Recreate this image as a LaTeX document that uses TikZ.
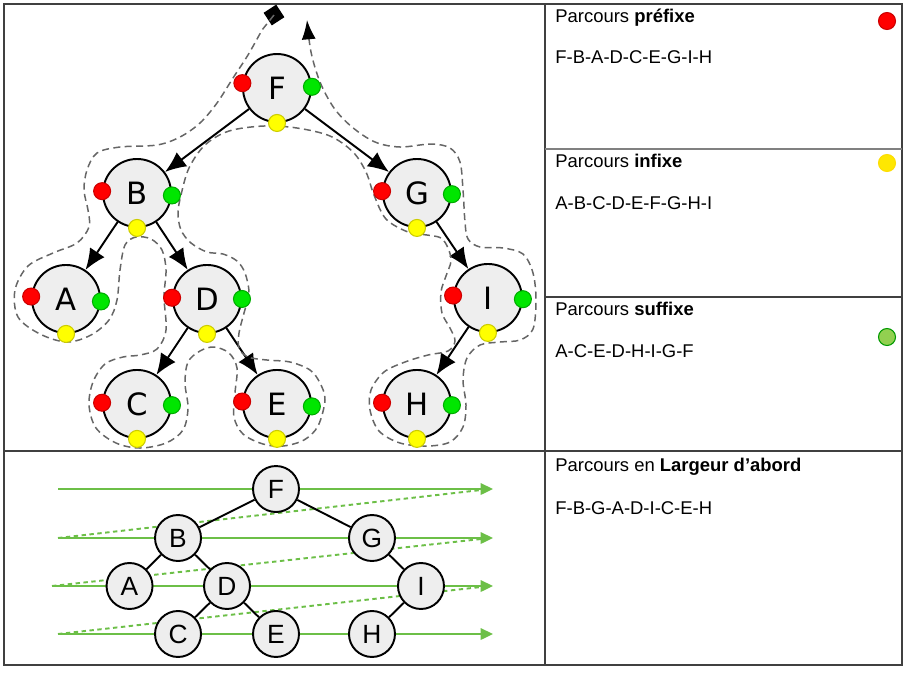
\documentclass[tikz,border=0pt]{standalone}
\usepackage{fontspec}
\setmainfont{Liberation Sans}
\newfontfamily\treefont{DejaVu Sans}
\usepackage{tikz}
\usetikzlibrary{arrows.meta,positioning}
\definecolor{nodegray}{HTML}{EEEEEE}
\definecolor{bfsgreen}{HTML}{6CBF47}
\definecolor{dotred}{HTML}{FF0000}
\definecolor{dotgreen}{HTML}{00E600}
\definecolor{dotyellow}{HTML}{FFFF00}
\definecolor{sufgreen}{HTML}{92D050}
\tikzstyle{tnode} =[circle, draw, fill=nodegray, line width=1.1pt,
                    minimum size=1.36cm, inner sep=0pt,
                    font=\treefont\fontsize{17.5}{18}\selectfont]
\tikzstyle{lnode} =[circle, draw, fill=nodegray, line width=1.1pt,
                    minimum size=0.92cm, inner sep=0pt,
                    font=\fontsize{15}{16}\selectfont]
\tikzstyle{edge}  =[line width=1.1pt, -{Latex[length=12pt,width=10pt]}]
\tikzstyle{ledge} =[line width=1.1pt]
\tikzstyle{tour}  =[draw=black!60, line width=0.85pt,
                    dash pattern=on 4pt off 2.5pt]
\tikzstyle{level} =[draw=bfsgreen, line width=1.1pt,
                    -{Triangle[length=7pt,width=6.5pt]}]
\tikzstyle{jump}  =[draw=bfsgreen, line width=1.1pt,
                    dash pattern=on 2.5pt off 2pt]
\tikzstyle{dot}   =[circle, minimum size=0.34cm, inner sep=0pt,
                    line width=0.6pt]
\tikzstyle{reddot}=[dot, fill=dotred, draw=dotred!80!black]
\tikzstyle{grndot}=[dot, fill=dotgreen, draw=dotgreen!75!black]
\tikzstyle{ylwdot}=[dot, fill=dotyellow, draw=dotyellow!80!black]
\tikzstyle{sufdot}=[dot, fill=sufgreen, draw=green!60!black]
\tikzstyle{frame} =[draw=black!75, line width=0.8pt]
\tikzstyle{celltext}=[anchor=base west, inner sep=0pt,
                    font=\fontsize{10.5}{12}\selectfont]

\begin{document}
\begin{tikzpicture}[x=0.02cm, y=-0.02cm, on grid]
  \useasboundingbox (0,0) rectangle (908,674);

  \draw[frame] (4,4) rectangle (902,665);
  \draw[frame] (545,4) -- (545,665);
  \draw[frame] (4,451) -- (902,451);
  \draw[frame, draw=black!50] (545,149) -- (902,149);
  \draw[frame] (545,297) -- (902,297);

  \node[tnode] (F) at (277,88) {F};
  \node[tnode] (B) [below left=2.1cm and 2.8cm of F] {B};
  \node[tnode] (G) [below right=2.1cm and 2.8cm of F] {G};
  \node[tnode] (A) [below left=2.12cm and 1.42cm of B] {A};
  \node[tnode] (D) [below right=2.12cm and 1.4cm of B] {D};
  \node[tnode] (C) [below left=2.1cm and 1.4cm of D] {C};
  \node[tnode] (E) [below right=2.1cm and 1.4cm of D] {E};
  \node[tnode] (I) [below right=2.1cm and 1.42cm of G] {I};
  \node[tnode] (H) [below left=2.12cm and 1.42cm of I] {H};
  \draw[edge] (F) -- (B);
  \draw[edge] (F) -- (G);
  \draw[edge] (B) -- (A);
  \draw[edge] (B) -- (D);
  \draw[edge] (D) -- (C);
  \draw[edge] (D) -- (E);
  \draw[edge] (G) -- (I);
  \draw[edge] (I) -- (H);

  \node[fill, rectangle, minimum size=0.3cm, inner sep=0pt, rotate=33]
    (start) at (274,15) {};
  \draw[tour, -{Latex[length=11pt,width=8pt,fill=black,color=black]}] (start.center) -- plot[smooth, tension=0.55] coordinates {
    (262,30) (248,55) (233,78) (217,103) (200,123) (180,137) (157,145)
    (120,147) (97,153) (87,170) (84,190) (88,210) (89,227) (77,243)
    (53,253) (28,266) (15,290) (18,317) (40,334) (67,342) (91,335)
    (109,320) (117,300) (120,270) (125,245) (136,237) (151,239)
    (162,250) (166,270) (164,297) (166,330) (157,349) (140,355)
    (123,357) (105,364) (93,382) (89,405) (96,428) (116,443) (140,448)
    (166,443) (183,430) (188,408) (185,383) (188,362) (200,351)
    (214,347) (229,353) (237,368) (235,393) (234,417) (243,434)
    (263,444) (283,446) (304,440) (318,426) (325,400) (320,383)
    (310,370) (290,362) (267,360) (248,357) (239,348) (239,333)
    (244,313) (249,293) (245,273) (237,261) (223,254) (207,252)
    (191,243) (181,230) (178,213) (181,195) (189,168) (205,145)
    (229,131) (264,126) (297,128) (330,136) (353,152) (366,172)
    (374,195) (386,219) (408,232) (427,235) (441,238) (448,248)
    (451,261) (446,276) (441,292) (442,313) (450,328) (455,341)
    (448,351) (428,355) (405,362) (384,372) (371,390) (370,410)
    (379,431) (400,443) (427,446) (450,442) (463,427) (466,405)
    (463,380) (467,358) (480,345) (500,342) (520,340) (533,329)
    (536,300) (533,273) (523,254) (503,248) (480,247) (468,239)
    (465,222) (463,190) (460,162) (450,148) (431,144) (400,147)
    (375,142) (352,127) (334,108) (320,82) (311,52) (307,20)};

  \node[reddot] (Fr) at (F.172) {}; \node[grndot] (Fg) at (F.2) {}; \node[ylwdot] (Fy) at (F.south) {};
  \node[reddot] (Br) at (B.177) {}; \node[grndot] (Bg) at (B.-4) {}; \node[ylwdot] (By) at (B.south) {};
  \node[reddot] (Gr) at (G.177) {}; \node[grndot] (Gg) at (G.-2) {}; \node[ylwdot] (Gy) at (G.south) {};
  \node[reddot] (Ar) at (A.176) {}; \node[grndot] (Ag) at (A.-4) {}; \node[ylwdot] (Ay) at (A.south) {};
  \node[reddot] (Dr) at (D.178) {}; \node[grndot] (Dg) at (D.0) {}; \node[ylwdot] (Dy) at (D.south) {};
  \node[reddot] (Ir) at (I.176) {}; \node[grndot] (Ig) at (I.-2) {}; \node[ylwdot] (Iy) at (I.south) {};
  \node[reddot] (Cr) at (C.178) {}; \node[grndot] (Cg) at (C.-2) {}; \node[ylwdot] (Cy) at (C.south) {};
  \node[reddot] (Er) at (E.176) {}; \node[grndot] (Eg) at (E.-4) {}; \node[ylwdot] (Ey) at (E.south) {};
  \node[reddot] (Hr) at (H.178) {}; \node[grndot] (Hg) at (H.-2) {}; \node[ylwdot] (Hy) at (H.south) {};

  \coordinate (s1) at (58,489);  \coordinate (t1) at (493,489); \coordinate (e1) at (481,490);
  \coordinate (s2) at (58,538);  \coordinate (t2) at (493,538); \coordinate (e2) at (481,539);
  \coordinate (s3) at (52,586);  \coordinate (t3) at (493,586); \coordinate (e3) at (481,587);
  \coordinate (s4) at (58,634);  \coordinate (t4) at (493,634);
  \draw[level] (s1) -- (t1);
  \draw[level] (s2) -- (t2);
  \draw[level] (s3) -- (t3);
  \draw[level] (s4) -- (t4);
  \draw[jump] (s2) -- (e1);
  \draw[jump] (s3) -- (e2);
  \draw[jump] (s4) -- (e3);

  \node[lnode] (lF) at (276,489) {F};
  \node[lnode] (lB) [below left=0.98cm and 1.96cm of lF] {B};
  \node[lnode] (lG) [below right=0.98cm and 1.92cm of lF] {G};
  \node[lnode] (lA) [below left=0.96cm and 0.97cm of lB] {A};
  \node[lnode] (lD) [below right=0.96cm and 0.98cm of lB] {D};
  \node[lnode] (lC) [below left=0.96cm and 0.98cm of lD] {C};
  \node[lnode] (lE) [below right=0.96cm and 0.98cm of lD] {E};
  \node[lnode] (lI) [below right=0.96cm and 0.98cm of lG] {I};
  \node[lnode] (lH) [below left=0.96cm and 0.98cm of lI] {H};
  \draw[ledge] (lF) -- (lB);
  \draw[ledge] (lF) -- (lG);
  \draw[ledge] (lB) -- (lA);
  \draw[ledge] (lB) -- (lD);
  \draw[ledge] (lD) -- (lC);
  \draw[ledge] (lD) -- (lE);
  \draw[ledge] (lG) -- (lI);
  \draw[ledge] (lI) -- (lH);

  \node[celltext] (t1a) at (555,22) {Parcours \textbf{préfixe}};
  \node[celltext] (t1b) at (555,63) {F-B-A-D-C-E-G-I-H};
  \node[reddot] (k1) at (887,21) {};
  \node[celltext] (t2a) at (555,167) {Parcours \textbf{infixe}};
  \node[celltext] (t2b) at (555,209) {A-B-C-D-E-F-G-H-I};
  \node[ylwdot, fill=yellow!90!orange, draw=yellow!80!orange] (k2) at (887,163) {};
  \node[celltext] (t3a) at (555,315) {Parcours \textbf{suffixe}};
  \node[celltext] (t3b) at (555,357) {A-C-E-D-H-I-G-F};
  \node[sufdot] (k3) at (887,337) {};
  \node[celltext] (t4a) at (555,471) {Parcours en \textbf{Largeur d’abord}};
  \node[celltext] (t4b) at (555,514) {F-B-G-A-D-I-C-E-H};
\end{tikzpicture}
\end{document}
